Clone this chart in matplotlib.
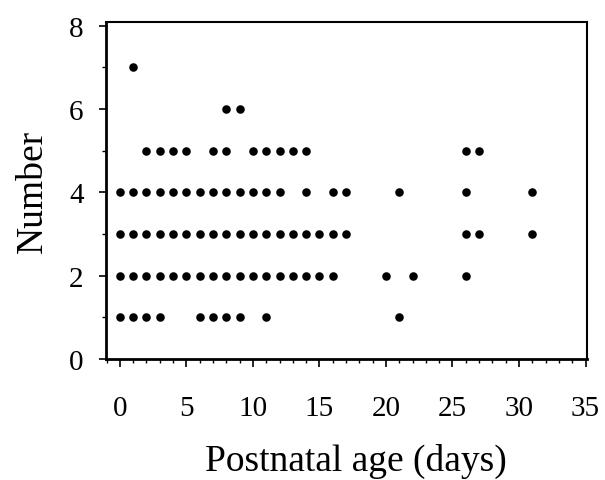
import matplotlib
matplotlib.use("Agg")
import matplotlib.pyplot as plt
from matplotlib.ticker import MultipleLocator

plt.rcParams['font.family'] = ['Liberation Serif', 'DejaVu Serif']

# counts observed at each postnatal day, grouped by number
ages_n1 = [0, 1, 2, 3, 6, 7, 8, 9, 11, 21]
ages_n2 = list(range(0, 17)) + [20, 22, 26]
ages_n3 = list(range(0, 18)) + [26, 27, 31]
ages_n4 = list(range(0, 13)) + [14, 16, 17, 21, 26, 31]
ages_n5 = [2, 3, 4, 5, 7, 8, 10, 11, 12, 13, 14, 26, 27]
ages_n6 = [8, 9]
ages_n7 = [1]

groups = [(1, ages_n1), (2, ages_n2), (3, ages_n3), (4, ages_n4),
          (5, ages_n5), (6, ages_n6), (7, ages_n7)]

fig = plt.figure(figsize=(6.05, 4.81), dpi=100)
ax = fig.add_axes([0.175, 0.2516, 0.795, 0.70])

for n, ages in groups:
    ax.scatter(ages, [n] * len(ages), s=38, color='black', linewidths=0, zorder=3)

ax.set_xlim(-1.05, 35.1)
ax.set_ylim(0, 8.08)
ax.xaxis.set_major_locator(MultipleLocator(5))
ax.xaxis.set_minor_locator(MultipleLocator(1))
ax.yaxis.set_major_locator(MultipleLocator(2))
ax.yaxis.set_minor_locator(MultipleLocator(1))

ax.tick_params(axis='x', which='major', direction='out', length=6, width=1.2,
               pad=20, labelsize=21)
ax.tick_params(axis='x', which='minor', direction='out', length=3, width=1)
ax.tick_params(axis='y', which='major', direction='out', length=5, width=1.2,
               pad=11, labelsize=21)
ax.tick_params(axis='y', which='minor', direction='out', length=3, width=1)

for side in ['left', 'bottom']:
    ax.spines[side].set_linewidth(2)
for side in ['top', 'right']:
    ax.spines[side].set_linewidth(1.5)

ax.set_xlabel('Postnatal age (days)', fontsize=27, labelpad=16, x=0.52)
ax.set_ylabel('Number', fontsize=27, labelpad=14)

fig.savefig('out.png', dpi=100)
